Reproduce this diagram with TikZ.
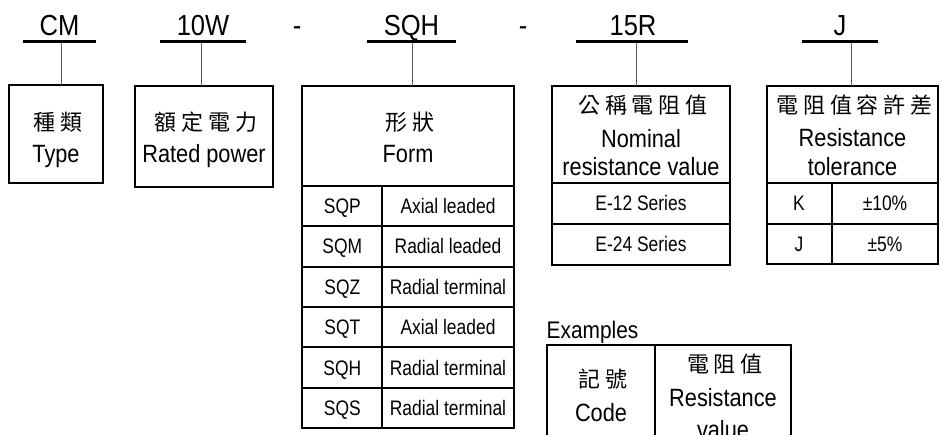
\documentclass[tikz,border=0pt]{standalone}
\usepackage{fontspec}
\setmainfont{Liberation Sans}
\newfontfamily\cjkfont[LetterSpace=22]{Noto Sans CJK TC}
\newfontfamily\narrowfont[FakeStretch=0.88]{Liberation Sans}
\newfontfamily\hdrfamily[FakeStretch=0.87]{Liberation Sans}
\newfontfamily\rowfamily[FakeStretch=0.83]{Liberation Sans}
\newcommand\topf{\fontsize{29}{32}\selectfont\narrowfont}
\newcommand\hdrf{\fontsize{25}{28}\selectfont\hdrfamily}
\newcommand\exf{\fontsize{24}{28}\selectfont\hdrfamily}
\newcommand\cjkf{\fontsize{22}{26}\selectfont\cjkfont}
\newcommand\rowf{\fontsize{21}{24}\selectfont\rowfamily}
\tikzset{
  box/.style={draw, line width=2pt, inner sep=0pt, outer sep=0pt, anchor=north west},
  grid/.style={line width=2pt},
  conn/.style={line width=1pt, draw=black!65},
  uline/.style={line width=3.5pt},
  txt/.style={anchor=base, inner sep=0pt, outer sep=0pt}
}
\begin{document}
\begin{tikzpicture}[x=1pt, y=-1pt]
\useasboundingbox (0,0) rectangle (942,435);
\fill[white] (0,0) rectangle (942,435);
\clip (0,0) rectangle (942,435);

% top code labels
\node[txt] (lcm)  at (59.5,36) {\topf CM};
\node[txt] (l10w) at (203,36)  {\topf 10W};
\node[txt] (d1)   at (297,36)  {\topf -};
\node[txt] (lsqh) at (411.5,36){\topf SQH};
\node[txt] (d2)   at (523,36)  {\topf -};
\node[txt] (l15r) at (633,36)  {\topf 15R};
\node[txt] (lj)   at (840,36)  {\topf J};

\draw[uline] (23,41.5) -- (96,41.5);
\draw[uline] (160,41.5) -- (246,41.5);
\draw[uline] (367,41.5) -- (456,41.5);
\draw[uline] (576,41.5) -- (688,41.5);
\draw[uline] (802,41.5) -- (878,41.5);

\coordinate (ucm)  at (61,43);
\coordinate (u10w) at (201.7,43);
\coordinate (usqh) at (412,43);
\coordinate (u15r) at (636,43);
\coordinate (uj)   at (851,43);

% boxes
\node[box, minimum width=93.7pt, minimum height=98pt] (typebox) at (9.3,85) {};
\node[box, minimum width=138pt, minimum height=101pt] (ratebox) at (135,86) {};
\node[box, minimum width=211.7pt, minimum height=342pt] (formbox) at (302.3,86) {};
\node[box, minimum width=178.3pt, minimum height=179pt] (nombox) at (551.7,86) {};
\node[box, minimum width=171.6pt, minimum height=178.3pt] (tolbox) at (766.7,86) {};
\node[box, minimum width=243.4pt, minimum height=130pt] (exbox) at (547.3,345) {};

% connectors
\draw[conn] (ucm) -- (ucm |- typebox.north);
\draw[conn] (u10w) -- (u10w |- ratebox.north);
\draw[conn] (usqh) -- (usqh |- formbox.north);
\draw[conn] (u15r) -- (u15r |- nombox.north);
\draw[conn] (uj) -- (uj |- tolbox.north);

% Type box
\node[txt] at (58,131) {\cjkf 種類};
\node[txt] at (56,162.7) {\hdrf Type};
% Rated power
\node[txt] at (206,131) {\cjkf 額定電力};
\node[txt] at (204,162.7) {\hdrf Rated power};

% Form table
\node[txt] at (410,131) {\cjkf 形狀};
\node[txt] at (408,162.7) {\hdrf Form};
\draw[grid] (302.3,186) -- (514,186);
\foreach \yy in {226.3,266.7,307,347.3,387.7} \draw[grid] (302.3,\yy) -- (514,\yy);
\draw[grid] (382.3,186) -- (382.3,428);
\foreach \c/\d/\yy in {SQP/Axial leaded/213.7, SQM/Radial leaded/254, SQZ/Radial terminal/294.3, SQT/Axial leaded/334.7, SQH/Radial terminal/375, SQS/Radial terminal/415.3}{
  \node[txt] at (342.3,\yy) {\rowf \c};
  \node[txt] at (448,\yy) {\rowf \d};
}

% Nominal
\node[txt] at (643,114) {\cjkf 公稱電阻值};
\node[txt] at (641,148) {\hdrf Nominal};
\node[txt] at (641,176) {\hdrf resistance value};
\draw[grid] (551.7,182.7) -- (730,182.7);
\draw[grid] (551.7,224) -- (730,224);
\node[txt] at (641,210.8) {\rowf E-12 Series};
\node[txt] at (641,252) {\rowf E-24 Series};

% Tolerance
\node[txt] at (854.5,114) {\cjkf 電阻值容許差};
\node[txt] at (852.5,146.7) {\hdrf Resistance};
\node[txt] at (852.5,176) {\hdrf tolerance};
\draw[grid] (766.7,183.3) -- (938.3,183.3);
\draw[grid] (766.7,224) -- (938.3,224);
\draw[grid] (831.7,183.3) -- (831.7,264.3);
\node[txt] at (799,211) {\rowf K};
\node[txt] at (885,211) {\rowf ±10\%};
\node[txt] at (799,252) {\rowf J};
\node[txt] at (885,252) {\rowf ±5\%};

% Examples
\node[txt, anchor=base west] at (546.7,338.3) {\exf Examples};
\draw[grid] (655,345) -- (655,475);
\node[txt] at (603,388) {\cjkf 記號};
\node[txt] at (601,421.7) {\hdrf Code};
\node[txt] at (725,373) {\cjkf 電阻值};
\node[txt] at (723,406.7) {\hdrf Resistance};
\node[txt] at (723,438) {\hdrf value};
\end{tikzpicture}
\end{document}
